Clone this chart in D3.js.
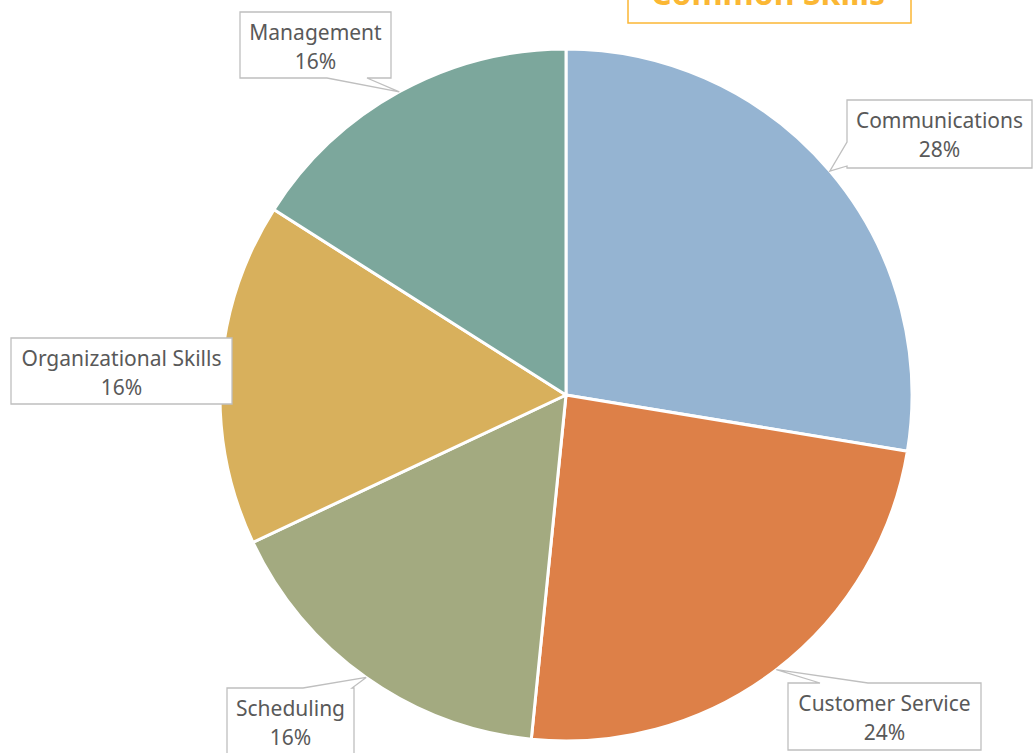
<!DOCTYPE html>
<meta charset="utf-8">
<style>
  body { margin: 0; background: #fff; }
  text { font-family: "Noto Sans", "Open Sans", sans-serif; }
</style>
<svg width="1033" height="753"></svg>
<script src="https://d3js.org/d3.v7.min.js"></script>
<script>
// data
var categories = ["Communications", "Customer Service", "Scheduling", "Organizational Skills", "Management"]
var values = [27.6, 24, 16.4, 16, 16]
var colors = ["#95b4d2", "#dd8048", "#a3aa80", "#d8b05c", "#7ca79c"]

// callout boxes (layout only): x, y, w, h, and which side the pointer leaves from
var boxes = [
  { x: 847, y: 100, w: 185, h: 68, side: "left", a: 142, b: 166 },
  { x: 788, y: 683, w: 193, h: 67, side: "top", a: 820, b: 868 },
  { x: 227, y: 688, w: 127, h: 70, side: "top", a: 303, b: 352 },
  { x: 11, y: 338, w: 221, h: 66, side: null },
  { x: 240, y: 12, w: 151, h: 66, side: "bottom", a: 327, b: 367 }
]

var svg = d3.select("svg")
var cx = 566, cy = 395, r = 346
var total = d3.sum(values)

var pie = d3.pie().sort(null).value(function (d) { return d })
var arcs = pie(values)
var arc = d3.arc().innerRadius(0).outerRadius(r)

var g = svg.append("g").attr("transform", "translate(" + cx + "," + cy + ")")
g.selectAll("path")
  .data(arcs)
  .enter().append("path")
  .attr("d", arc)
  .attr("fill", function (d, i) { return colors[i] })
  .attr("stroke", "#fff")
  .attr("stroke-width", 3)
  .attr("stroke-linejoin", "round")

// tip of each callout sits on the rim at the slice's middle angle
function tipOf(d) {
  var a = (d.startAngle + d.endAngle) / 2
  return [cx + r * Math.sin(a), cy - r * Math.cos(a)]
}

function calloutPath(b, tip) {
  var x0 = b.x, y0 = b.y, x1 = b.x + b.w, y1 = b.y + b.h
  var p = d3.path()
  p.moveTo(x0, y0)
  if (b.side === "top") { p.lineTo(b.a, y0); p.lineTo(tip[0], tip[1]); p.lineTo(b.b, y0) }
  p.lineTo(x1, y0)
  p.lineTo(x1, y1)
  if (b.side === "bottom") { p.lineTo(b.b, y1); p.lineTo(tip[0], tip[1]); p.lineTo(b.a, y1) }
  p.lineTo(x0, y1)
  if (b.side === "left") { p.lineTo(x0, b.b); p.lineTo(tip[0], tip[1]); p.lineTo(x0, b.a) }
  p.closePath()
  return p.toString()
}

var labels = svg.append("g")
arcs.forEach(function (d, i) {
  var b = boxes[i]
  var lg = labels.append("g")
  lg.append("path")
    .attr("d", calloutPath(b, tipOf(d)))
    .attr("fill", "#fff")
    .attr("stroke", "#bfbfbf")
    .attr("stroke-width", 1.3)
  var t = lg.append("text")
    .attr("text-anchor", "middle")
    .attr("fill", "#595959")
    .attr("font-size", 21)
  t.append("tspan").attr("x", b.x + b.w / 2).attr("y", b.y + 28).text(categories[i])
  t.append("tspan").attr("x", b.x + b.w / 2).attr("y", b.y + 57).text(Math.round(values[i] / total * 100) + "%")
})

// title, mostly cut off at the top of the frame
svg.append("rect")
  .attr("x", 628).attr("y", -40).attr("width", 283).attr("height", 63)
  .attr("fill", "#fff").attr("stroke", "#fbb734").attr("stroke-width", 1.5)
svg.append("text")
  .attr("x", 768).attr("y", 5)
  .attr("text-anchor", "middle")
  .attr("fill", "#fbb734")
  .attr("font-size", 32)
  .attr("font-weight", "bold")
  .text("Common Skills")
</script>
